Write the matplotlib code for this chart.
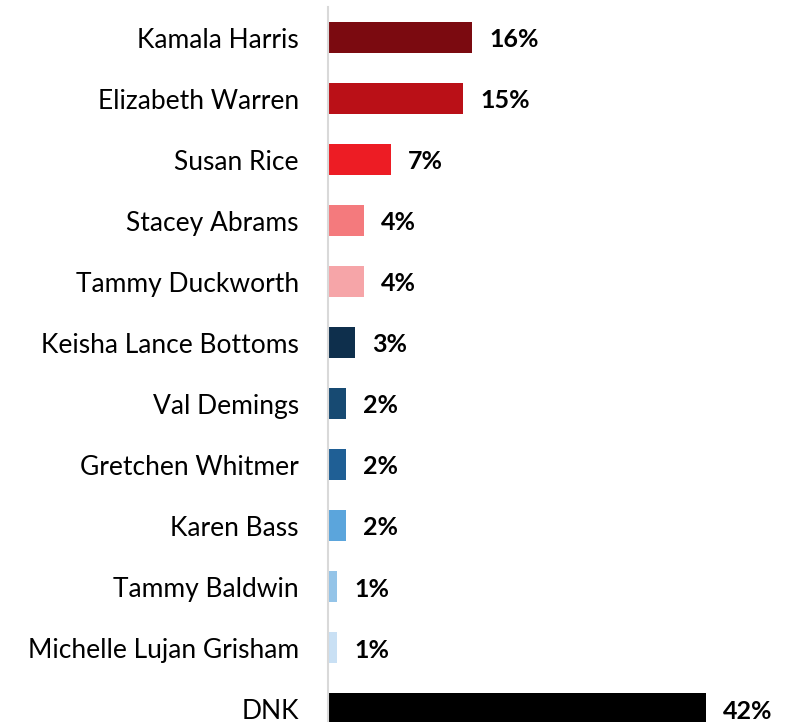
import matplotlib
matplotlib.use("Agg")
import matplotlib.pyplot as plt

names = ["Kamala Harris", "Elizabeth Warren", "Susan Rice", "Stacey Abrams",
         "Tammy Duckworth", "Keisha Lance Bottoms", "Val Demings",
         "Gretchen Whitmer", "Karen Bass", "Tammy Baldwin",
         "Michelle Lujan Grisham", "DNK"]
pct = [16, 15, 7, 4, 4, 3, 2, 2, 2, 1, 1, 42]
colors = ["#7B0A10", "#BA1017", "#ED1C24", "#F47A7D", "#F6A5A8", "#0E2F4C",
          "#174A72", "#1F5F95", "#5BA5DC", "#94C4E8", "#C9E0F4", "#000000"]

plt.rcParams['font.family'] = ['Lato', 'DejaVu Sans']

fig = plt.figure(figsize=(7.86, 7.22), dpi=100)
ax = fig.add_axes([328 / 786, 0, 450 / 786, 715 / 722])

pos = list(range(len(names)))
ax.barh(pos, pct, height=0.51, color=colors)
for y, v in zip(pos, pct):
    ax.text(v + 1.9, y + 0.04, f"{v}%", va="center", ha="left",
            fontsize=18, fontweight="bold", color="black")

ax.set_xlim(0, 50)
ax.set_ylim(11.22, -0.5)
ax.set_yticks(pos)
ax.set_yticklabels(names, fontsize=19)
ax.tick_params(axis="y", length=0, pad=21)
ax.set_xticks([])
for s in ["top", "right", "bottom"]:
    ax.spines[s].set_visible(False)
ax.spines["left"].set_color("#D9D9D9")
ax.spines["left"].set_linewidth(1.5)

fig.savefig("out.png", dpi=100)
